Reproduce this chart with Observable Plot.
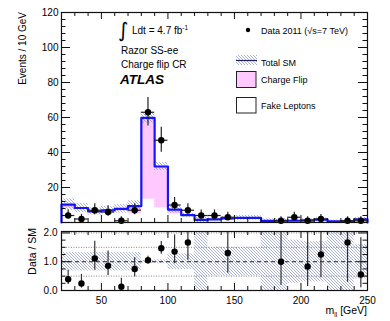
<!DOCTYPE html>
<html><head><meta charset="utf-8">
<script src="https://cdn.jsdelivr.net/npm/d3@7"></script>
<script src="https://cdn.jsdelivr.net/npm/@observablehq/plot@0.6"></script>
<style>
html,body{margin:0;padding:0;background:#fff;}
#wrap{position:relative;width:390px;height:321px;overflow:hidden;font-family:"Liberation Sans",Arial,Helvetica,sans-serif;}
#wrap svg{position:absolute;left:0;top:0;}
</style></head><body>
<svg width="0" height="0" style="position:absolute">
  <defs>
    <pattern id="hatch" patternUnits="userSpaceOnUse" width="3" height="3">
      <path d="M0,0 L3,3 M-1,2 L1,4 M2,-1 L4,1" stroke="#959ccb" stroke-width="0.8"/>
    </pattern>
  </defs>
</svg>
<div id="wrap"></div>
<script>
// ---- data ----
const binLo = [20,30,40,50,60,70,80,90,100,110,120,130,140,150,160,170,180,190,200,210,220,230,240];
const binHi = [30,40,50,60,70,80,90,100,110,120,130,140,150,160,170,180,190,200,210,220,230,240,250];
const dataCounts = [4,2,7,6,1,7,63,47,10,7,4,4,3,0,0,0,1,3,1,2,0,1,1];
const dataErrLow  = [2.09,0.71,4.42,3.62,0.17,4.42,55.1,40.2,6.89,4.42,2.09,2.09,1.37,0,0,0,0.17,1.37,0.17,0.71,0,0.17,0.17];
const dataErrHigh = [7.16,4.64,10.77,9.58,3.30,10.77,71.4,54.4,14.3,10.77,7.16,7.16,5.92,0,0,0,3.30,5.92,3.30,4.64,0,3.30,3.30];
const fakeLeptons = [8.2,7.3,5.5,6.2,6.6,4.9,13.3,8.4,4.9,3.6,1.2,1.5,2.0,2.4,2.4,0.8,0.9,0.9,1.0,1.4,0.5,0.5,1.6];
const chargeFlip  = [2.0,1.0,0.8,0.8,1.2,4.5,46.5,23.6,2.5,0.6,0.3,0.3,0.3,0.3,0.3,0.1,0.1,0.1,0.2,0.2,0.1,0.1,0.2];
const relUnc      = [0.32,0.32,0.32,0.32,0.32,0.32,0.05,0.07,0.27,0.27,1.2,0.5,0.5,0.5,0.5,1.2,1.2,0.75,0.7,0.7,1.2,1.2,0.6];
const yTicksMain = [20,40,60,80,100,120];
const xTickLabels = [50,100,150,200,250];
const ratioTickLabels = [0,1,2];

// ---- layout ----
const W = 390, H = 321, ML = 61, MR = 23;
const mainTop = 12, mainBottom = 222, ratioTop = 231, ratioBottom = 290;
const plotW = W - ML - MR;
const mainH = mainBottom - mainTop, ratioH = ratioBottom - ratioTop;
const font = '"Liberation Sans",Arial,Helvetica,sans-serif';
const blue = "#1414ff", pink = "#ffc8ff", ink = "#111";

const rows = binLo.map((lo, i) => {
  const tot = fakeLeptons[i] + chargeFlip[i];
  return {lo, hi: binHi[i], c: (lo + binHi[i]) / 2, n: dataCounts[i], elo: dataErrLow[i], ehi: dataErrHigh[i],
    fake: fakeLeptons[i], cf: chargeFlip[i], tot, rel: relUnc[i]};
});
const stepPts = [{x: binLo[0], y: 0}];
rows.forEach(d => { stepPts.push({x: d.lo, y: d.tot}); stepPts.push({x: d.hi, y: d.tot}); });
stepPts.push({x: binHi[binHi.length - 1], y: 0});
const dataRows = rows.filter(d => d.n > 0);
const ratioMax = 2.05;
const ratioRows = dataRows.map(d => ({c: d.c, r: d.n / d.tot, lo: d.elo / d.tot, hi: d.ehi / d.tot})).filter(d => d.r <= ratioMax);

const xMinor = d3.range(20, 251, 10).filter(v => v % 50 !== 0);
const xMajor = [50,100,150,200,250];

function xTicks(h) {
  return [
    Plot.tickX(xMinor, {x: d => d, insetBottom: h - 4, stroke: ink}),
    Plot.tickX(xMajor, {x: d => d, insetBottom: h - 7, stroke: ink}),
    Plot.tickX(xMinor, {x: d => d, insetTop: h - 4, stroke: ink}),
    Plot.tickX(xMajor, {x: d => d, insetTop: h - 7, stroke: ink})
  ];
}
function yTicks(minor, major) {
  return [
    Plot.tickY(minor, {y: d => d, insetRight: plotW - 4.5, stroke: ink}),
    Plot.tickY(major, {y: d => d, insetRight: plotW - 9, stroke: ink}),
    Plot.tickY(minor, {y: d => d, insetLeft: plotW - 4.5, stroke: ink}),
    Plot.tickY(major, {y: d => d, insetLeft: plotW - 9, stroke: ink})
  ];
}

const main = Plot.plot({
  width: W, height: H, marginLeft: ML, marginRight: MR, marginTop: mainTop, marginBottom: H - mainBottom,
  x: {domain: [20, 250], axis: null},
  y: {domain: [0, 120], axis: null},
  style: {fontFamily: font, fontSize: "10px", background: "transparent", color: "#000"},
  marks: [
    Plot.rect(rows, {x1: "lo", x2: "hi", y1: "fake", y2: "tot", fill: pink}),
    Plot.rect(rows, {x1: "lo", x2: "hi", y1: d => Math.max(0, d.tot * (1 - d.rel)), y2: d => d.tot * (1 + d.rel), fill: "url(#hatch)"}),
    Plot.line(stepPts, {x: "x", y: "y", stroke: blue, strokeWidth: 2.2}),
    Plot.ruleX(dataRows, {x: "c", y1: "elo", y2: "ehi", stroke: "#222", strokeWidth: 1.2, clip: true}),
    Plot.ruleY(dataRows, {y: "n", x1: "lo", x2: "hi", stroke: "#222", strokeWidth: 1.2}),
    Plot.dot(dataRows, {x: "c", y: "n", r: 3.2, fill: "#000", stroke: "none"}),
    ...xTicks(mainH),
    ...yTicks(d3.range(0, 121, 4).filter(v => v % 20 !== 0), d3.range(0, 121, 20)),
    Plot.axisY({ticks: yTicksMain, tickSize: 0, tickPadding: 3, fontSize: 10, label: null}),
    Plot.frame({stroke: ink, strokeWidth: 1.2})
  ]
});

const ratio = Plot.plot({
  width: W, height: H, marginLeft: ML, marginRight: MR, marginTop: ratioTop, marginBottom: H - ratioBottom,
  x: {domain: [20, 250], axis: null},
  y: {domain: [0, ratioMax], axis: null},
  style: {fontFamily: font, fontSize: "10px", background: "transparent", color: "#000"},
  marks: [
    Plot.rect(rows, {x1: "lo", x2: "hi", y1: d => Math.max(0, 1 - d.rel), y2: d => Math.min(ratioMax, 1 + d.rel), fill: "url(#hatch)"}),
    Plot.ruleY([0.5, 1.5, 2], {stroke: "#888", strokeDasharray: "1,1.5"}),
    Plot.ruleY([1], {stroke: "#222", strokeDasharray: "4,3"}),
    Plot.ruleX(ratioRows, {x: "c", y1: "lo", y2: d => Math.min(ratioMax, d.hi), stroke: "#333", strokeWidth: 1.2}),
    Plot.dot(ratioRows, {x: "c", y: "r", r: 3.2, fill: "#000", stroke: "none"}),
    ...xTicks(ratioH),
    ...yTicks(d3.range(0, 2.01, 0.25).filter(v => v % 1 !== 0), ratioTickLabels),
    Plot.axisY({ticks: ratioTickLabels, tickSize: 0, tickPadding: 4, fontSize: 10, label: null}),
    Plot.axisX({ticks: xTickLabels, tickSize: 0, tickPadding: 6, fontSize: 10, label: null}),
    Plot.frame({stroke: ink, strokeWidth: 1.2})
  ]
});

const wrap = document.getElementById("wrap");
wrap.appendChild(main);
wrap.appendChild(ratio);

// ---- text overlay (titles, legend) ----
const ov = d3.select(wrap).append("svg").attr("width", W).attr("height", H)
  .style("font-family", font).attr("fill", "#000");

ov.append("text").attr("transform", "translate(26,12) rotate(-90)").attr("text-anchor", "end")
  .attr("font-size", 10).text("Events / 10 GeV");
ov.append("text").attr("transform", "translate(36,228) rotate(-90)").attr("text-anchor", "end")
  .attr("font-size", 10.5).text("Data / SM");
const mt = ov.append("text").attr("x", 367).attr("y", 314).attr("text-anchor", "end").attr("font-size", 10.5);
mt.append("tspan").text("m");
mt.append("tspan").attr("font-size", 6.5).attr("dy", 2.5).text("ll");
mt.append("tspan").attr("dy", -2.5).text(" [GeV]");

// top-left annotation
ov.append("text").attr("x", 118).attr("y", 37).attr("font-size", 20).attr("font-family", "DejaVu Sans").text("\u222B");
const lt = ov.append("text").attr("x", 132).attr("y", 34).attr("font-size", 10);
lt.append("tspan").text("Ldt = 4.7 fb");
lt.append("tspan").attr("font-size", 6.5).attr("dy", -4).text("-1");
ov.append("text").attr("x", 121).attr("y", 54).attr("font-size", 10).text("Razor SS-ee");
ov.append("text").attr("x", 121).attr("y", 67.5).attr("font-size", 10).text("Charge flip CR");
ov.append("text").attr("x", 120).attr("y", 84).attr("font-size", 13.5).attr("font-weight", "bold").attr("font-style", "italic").text("ATLAS");

// legend
ov.append("circle").attr("cx", 248).attr("cy", 30).attr("r", 2.2).attr("fill", "#000");
ov.append("text").attr("x", 261).attr("y", 33.5).attr("font-size", 9).text("Data 2011 (\u221As=7 TeV)");
ov.append("rect").attr("x", 236).attr("y", 55).attr("width", 21).attr("height", 10).attr("fill", "url(#hatch)");
ov.append("line").attr("x1", 236).attr("x2", 257).attr("y1", 60.5).attr("y2", 60.5).attr("stroke", "#202060").attr("stroke-width", 1.2);
ov.append("text").attr("x", 261).attr("y", 66).attr("font-size", 9).text("Total SM");
ov.append("rect").attr("x", 236.5).attr("y", 71.5).attr("width", 19.5).attr("height", 16).attr("fill", pink).attr("stroke", "#222");
ov.append("text").attr("x", 261).attr("y", 83).attr("font-size", 9).text("Charge Flip");
ov.append("rect").attr("x", 236.5).attr("y", 97.5).attr("width", 19.5).attr("height", 15.5).attr("fill", "#fff").attr("stroke", "#222");
ov.append("text").attr("x", 261).attr("y", 109).attr("font-size", 9).text("Fake Leptons");
</script>
</body></html>
